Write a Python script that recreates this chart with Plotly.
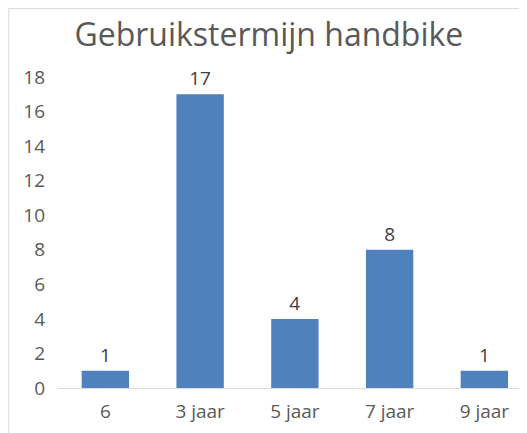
import plotly.graph_objects as go

categories = ["6", "3 jaar", "5 jaar", "7 jaar", "9 jaar"]
counts = [1, 17, 4, 8, 1]
y_ticks = [0, 2, 4, 6, 8, 10, 12, 14, 16, 18]

BAR = "#4F81BD"
TEXT = "#595959"
FONT = "Open Sans"

fig = go.Figure()
fig.add_trace(
    go.Bar(
        x=categories,
        y=counts,
        marker=dict(color=BAR, line_width=0),
        text=counts,
        textposition="outside",
        textfont=dict(family=FONT, size=19, color="#404040"),
        cliponaxis=False,
    )
)

# chart border (top and left edge of the cropped Excel frame)
fig.add_shape(type="line", xref="paper", yref="paper", x0=-0.105, x1=1.02,
              y0=1.220, y1=1.220, line=dict(color="#d9d9d9", width=1))
fig.add_shape(type="line", xref="paper", yref="paper", x0=-0.105, x1=-0.105,
              y0=-0.2, y1=1.220, line=dict(color="#d9d9d9", width=1))

# the page body adds an 8px offset, so margins are shifted to compensate
fig.update_layout(
    width=527,
    height=433,
    margin=dict(l=50, r=8, t=69, b=53, autoexpand=False),
    paper_bgcolor="white",
    plot_bgcolor="white",
    bargap=0.5,
    showlegend=False,
    title=dict(
        text="Gebruikstermijn handbike",
        x=0.495,
        xref="container",
        xanchor="center",
        y=0.938,
        yref="container",
        yanchor="middle",
        font=dict(family=FONT, size=32, color=TEXT),
    ),
    xaxis=dict(
        type="category",
        range=[-0.5, 4.45],
        automargin=False,
        showgrid=False,
        showline=True,
        linecolor="#d9d9d9",
        linewidth=1,
        ticks="",
        ticklabelstandoff=6,
        tickfont=dict(family=FONT, size=19, color=TEXT),
    ),
    yaxis=dict(
        range=[0, 18],
        tickvals=y_ticks,
        automargin=False,
        showgrid=False,
        zeroline=False,
        showline=False,
        ticks="",
        ticklabelstandoff=12,
        tickfont=dict(family=FONT, size=19, color=TEXT),
    ),
)

fig.write_html("out.html")
